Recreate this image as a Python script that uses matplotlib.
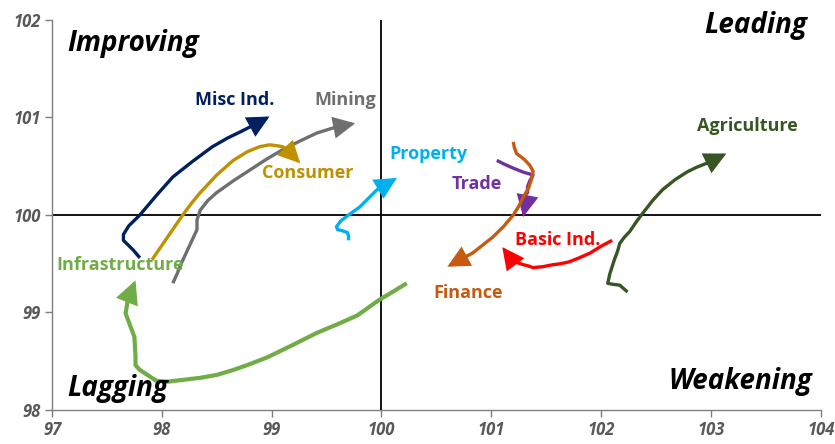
import matplotlib
matplotlib.use("Agg")
import matplotlib.pyplot as plt

plt.rcParams['font.family'] = ['Open Sans', 'DejaVu Sans']

# ---- data (x = relative strength ratio, y = momentum) ----
misc_x = [97.80, 97.77, 97.74, 97.65, 97.65, 97.70, 97.80, 97.95, 98.10, 98.28, 98.46, 98.60, 98.71, 98.85, 98.98]
misc_y = [99.56, 99.60, 99.64, 99.74, 99.80, 99.89, 100.00, 100.20, 100.39, 100.55, 100.70, 100.79, 100.85, 100.93, 101.01]

mining_x = [98.10, 98.14, 98.18, 98.25, 98.32, 98.32, 98.35, 98.42, 98.50, 98.65, 98.80, 98.95, 99.10, 99.26, 99.41, 99.58, 99.76]
mining_y = [99.30, 99.40, 99.51, 99.68, 99.85, 99.95, 100.05, 100.15, 100.23, 100.35, 100.46, 100.57, 100.67, 100.76, 100.84, 100.90, 100.94]

consumer_x = [97.91, 98.05, 98.19, 98.27, 98.35, 98.50, 98.65, 98.78, 98.89, 98.98, 99.05, 99.10, 99.14, 99.20, 99.26]
consumer_y = [99.54, 99.77, 100.00, 100.12, 100.23, 100.41, 100.56, 100.65, 100.70, 100.72, 100.71, 100.70, 100.67, 100.60, 100.53]

property_x = [99.70, 99.70, 99.69, 99.64, 99.60, 99.59, 99.63, 99.70, 99.80, 99.88, 99.96, 100.05, 100.14]
property_y = [99.74, 99.78, 99.82, 99.84, 99.85, 99.88, 99.94, 100.00, 100.08, 100.17, 100.26, 100.32, 100.38]

trade_x = [101.05, 101.12, 101.20, 101.29, 101.38, 101.35, 101.33, 101.33, 101.30, 101.32, 101.29]
trade_y = [100.56, 100.52, 100.48, 100.44, 100.41, 100.35, 100.29, 100.23, 100.20, 100.15, 99.98]

finance_x = [101.20, 101.21, 101.23, 101.30, 101.35, 101.38, 101.37, 101.34, 101.29, 101.25, 101.20, 101.11, 101.01, 100.92, 100.83, 100.60]
finance_y = [100.75, 100.69, 100.63, 100.57, 100.51, 100.45, 100.38, 100.28, 100.18, 100.09, 100.00, 99.88, 99.77, 99.69, 99.61, 99.47]

basic_x = [102.10, 102.00, 101.90, 101.80, 101.71, 101.63, 101.56, 101.47, 101.38, 101.33, 101.29, 101.24, 101.20, 101.10]
basic_y = [99.74, 99.68, 99.61, 99.56, 99.52, 99.50, 99.49, 99.47, 99.46, 99.48, 99.49, 99.51, 99.52, 99.67]

agri_x = [102.24, 102.20, 102.17, 102.10, 102.06, 102.07, 102.08, 102.10, 102.12, 102.15, 102.17, 102.21, 102.26, 102.32, 102.38, 102.47, 102.56, 102.67, 102.78, 102.87, 102.96, 103.14]
agri_y = [99.21, 99.25, 99.28, 99.29, 99.30, 99.35, 99.40, 99.47, 99.54, 99.63, 99.71, 99.77, 99.83, 99.93, 100.02, 100.15, 100.26, 100.36, 100.44, 100.49, 100.53, 100.63]

infra_x = [100.23, 100.10, 99.98, 99.88, 99.78, 99.60, 99.41, 99.18, 98.96, 98.80, 98.65, 98.50, 98.35, 98.20, 98.05, 97.95, 97.80, 97.76, 97.76, 97.75, 97.71, 97.67, 97.68, 97.69, 97.76]
infra_y = [99.30, 99.21, 99.13, 99.05, 98.97, 98.88, 98.79, 98.66, 98.54, 98.47, 98.41, 98.36, 98.33, 98.31, 98.29, 98.30, 98.41, 98.46, 98.55, 98.75, 98.87, 98.99, 99.06, 99.13, 99.33]

sectors = ["Misc Ind.", "Mining", "Consumer", "Property", "Trade",
           "Finance", "Basic Ind.", "Agriculture", "Infrastructure"]
series_x = [misc_x, mining_x, consumer_x, property_x, trade_x,
            finance_x, basic_x, agri_x, infra_x]
series_y = [misc_y, mining_y, consumer_y, property_y, trade_y,
            finance_y, basic_y, agri_y, infra_y]
colors = ["#002060", "#6F6F6F", "#BF9000", "#00B0F0", "#7030A0",
          "#C55A11", "#FF0000", "#375623", "#70AD47"]
widths = [2.4, 2.4, 2.4, 2.4, 2.4, 2.4, 2.4, 2.4, 3.0]
label_pos = [(98.66, 101.18), (99.67, 101.18), (99.33, 100.43), (100.43, 100.63),
             (100.87, 100.32), (100.79, 99.20), (101.60, 99.74), (103.33, 100.91),
             (97.62, 99.49)]

x_ticks = [97, 98, 99, 100, 101, 102, 103, 104]
y_ticks = [98, 99, 100, 101, 102]

quadrants = [("Improving", 97.14, 101.76, "left"), ("Leading", 103.88, 101.94, "right"),
             ("Lagging", 97.14, 98.22, "left"), ("Weakening", 103.92, 98.29, "right")]

fig = plt.figure(figsize=(8.35, 4.44), dpi=100)
ax = fig.add_axes([0.0623, 0.0766, 0.9207, 0.8784])
ax.set_xlim(97, 104)
ax.set_ylim(98, 102)

ax.axvline(100, color="black", lw=1.3, zorder=1)
ax.axhline(100, color="black", lw=1.3, zorder=1)

for sx, sy, c, w in zip(series_x, series_y, colors, widths):
    ax.plot(sx[:-1], sy[:-1], color=c, lw=w, solid_capstyle="butt",
            solid_joinstyle="round", zorder=3)
    ax.annotate("", xy=(sx[-1], sy[-1]), xytext=(sx[-2], sy[-2]),
                arrowprops=dict(arrowstyle="-|>,head_length=1.0,head_width=0.5",
                                color=c, lw=w, shrinkA=0, shrinkB=0,
                                mutation_scale=12, joinstyle="miter"),
                zorder=3)

for name, (lx, ly), c in zip(sectors, label_pos, colors):
    ax.text(lx, ly, name, color=c, fontsize=13, fontweight="bold",
            ha="center", va="center", zorder=4)

for name, qx, qy, ha in quadrants:
    ax.text(qx, qy, name, fontsize=20, fontweight="bold", fontstyle="italic",
            ha=ha, va="center", color="black")

ax.set_xticks(x_ticks)
ax.set_yticks(y_ticks)
ax.set_xticklabels([str(v) for v in x_ticks])
ax.set_yticklabels([str(v) for v in y_ticks])
for lab in ax.get_xticklabels() + ax.get_yticklabels():
    lab.set_fontweight("bold")
    lab.set_fontstyle("italic")
    lab.set_color("#595959")
    lab.set_fontsize(12)
ax.tick_params(direction="out", length=5, color="#7F7F7F", width=1, pad=3)
ax.spines["top"].set_visible(False)
ax.spines["right"].set_visible(False)
for s in ("left", "bottom"):
    ax.spines[s].set_color("#7F7F7F")
    ax.spines[s].set_linewidth(1)

fig.savefig("out.png", dpi=100)
